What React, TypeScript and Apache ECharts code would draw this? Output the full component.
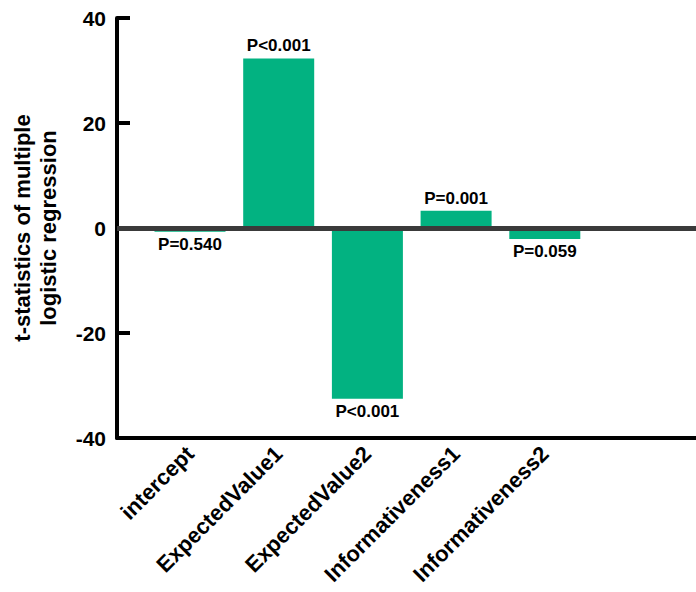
import React, { useEffect, useRef } from "react";
import * as echarts from "echarts";

const categories = ["intercept", "ExpectedValue1", "ExpectedValue2", "Informativeness1", "Informativeness2"];
const tValues = [-0.7, 32.3, -32.5, 3.3, -2.1];
const pLabels = ["P=0.540", "P<0.001", "P<0.001", "P=0.001", "P=0.059"];
const yTicks = { min: -40, max: 40, interval: 20 };

const FONT = "'Liberation Sans', Arial, Helvetica, sans-serif";

export default function App() {
  const ref = useRef<HTMLDivElement>(null);
  useEffect(() => {
    if (!ref.current) return;
    const chart = echarts.init(ref.current, null, { renderer: "svg" });
    const top = 18;
    const bottom = 154;
    const barLeft = 145.65;
    const barWidthTotal = 443.5;
    chart.setOption({
      animation: false,
      backgroundColor: "#ffffff",
      textStyle: { fontFamily: FONT },
      grid: [
        { left: 117, right: 0, top, bottom, outerBoundsMode: "none", containLabel: false },
        { left: barLeft, width: barWidthTotal, top, bottom, outerBoundsMode: "none", containLabel: false },
        { left: barLeft, width: barWidthTotal, top, bottom, outerBoundsMode: "none", containLabel: false },
      ],
      xAxis: [
        {
          gridIndex: 0,
          type: "value",
          min: 0,
          max: 1,
          axisLine: { show: true, onZero: false, lineStyle: { color: "#000", width: 4 } },
          axisTick: { show: false },
          axisLabel: { show: false },
          splitLine: { show: false },
        },
        {
          gridIndex: 1,
          type: "category",
          data: categories,
          axisLine: { show: false },
          axisTick: { show: false },
          axisLabel: { show: false },
          splitLine: { show: false },
        },
        {
          gridIndex: 2,
          type: "category",
          data: categories,
          axisLine: { show: false },
          axisTick: { show: false },
          axisLabel: {
            rotate: 45,
            interval: 0,
            margin: 12,
            color: "#000",
            fontSize: 22,
            fontWeight: "bold",
            fontFamily: FONT,
          },
          splitLine: { show: false },
        },
      ],
      yAxis: [
        {
          gridIndex: 0,
          type: "value",
          min: yTicks.min,
          max: yTicks.max,
          interval: yTicks.interval,
          name: "t-statistics of multiple\nlogistic regression",
          nameLocation: "middle",
          nameGap: 56,
          nameTextStyle: {
            color: "#000",
            fontSize: 22,
            fontWeight: "bold",
            fontFamily: FONT,
            lineHeight: 26,
          },
          axisLine: { show: true, lineStyle: { color: "#000", width: 4 } },
          axisTick: { show: true, inside: true, length: 13, lineStyle: { color: "#000", width: 4 } },
          axisLabel: {
            margin: 11,
            color: "#000",
            fontSize: 21,
            fontWeight: "bold",
            fontFamily: FONT,
          },
          splitLine: { show: false },
        },
        {
          gridIndex: 1,
          type: "value",
          min: yTicks.min,
          max: yTicks.max,
          interval: yTicks.interval,
          show: false,
          splitLine: { show: false },
        },
        {
          gridIndex: 2,
          type: "value",
          min: yTicks.min,
          max: yTicks.max,
          interval: yTicks.interval,
          show: false,
          splitLine: { show: false },
        },
      ],
      series: [
        {
          type: "bar",
          xAxisIndex: 1,
          yAxisIndex: 1,
          barWidth: 71,
          z: 2,
          itemStyle: { color: "#02b281" },
          data: tValues.map((v, i) => ({
            value: v,
            label: {
              show: true,
              position: v >= 0 ? "top" : "bottom",
              distance: 4,
              formatter: pLabels[i],
              color: "#000",
              fontSize: 17,
              fontWeight: "bold",
              fontFamily: FONT,
            },
          })),
        },
        {
          type: "line",
          xAxisIndex: 0,
          yAxisIndex: 0,
          data: [],
          z: 10,
          markLine: {
            silent: true,
            symbol: ["none", "none"],
            label: { show: false },
            lineStyle: { color: "#3a3a3a", width: 5, type: "solid" },
            data: [{ yAxis: 0 }],
          },
        },
      ],
    });
    return () => chart.dispose();
  }, []);
  return (
    <div
      ref={ref}
      style={{ position: "fixed", left: 0, top: 0, width: 696, height: 592 }}
    />
  );
}
